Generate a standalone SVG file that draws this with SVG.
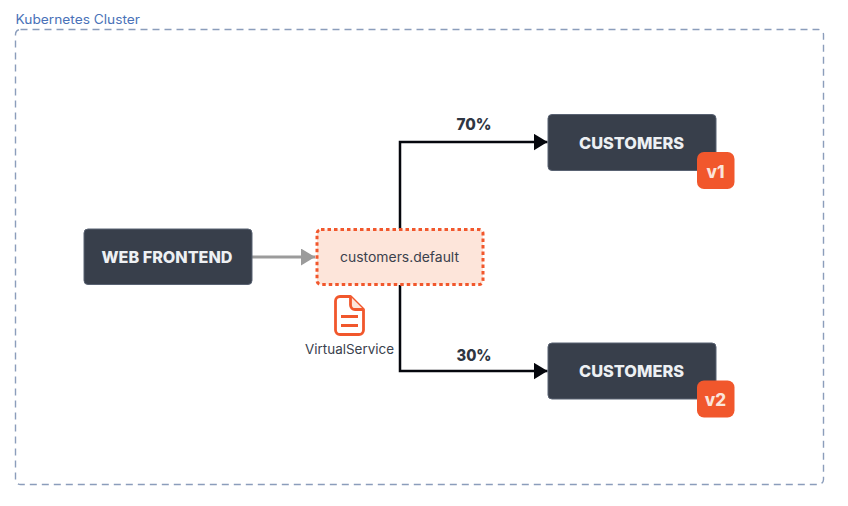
<svg xmlns="http://www.w3.org/2000/svg" width="848" height="506" viewBox="0 0 848 506">
<style>
text{font-family:Inter,"Liberation Sans",sans-serif}
.box{fill:#383f4b;stroke:#596272;stroke-width:1}
.title{fill:#edf0f3;font-size:16px;font-weight:800;text-anchor:middle}
.badge{fill:#f1572c}
.ver{fill:#fbe4da;font-size:17px;font-weight:800;text-anchor:middle}
.pct{fill:#2f3642;font-size:16px;font-weight:800;text-anchor:middle}
.lbl{fill:#3a414d;font-size:13px;text-anchor:middle}
.k{fill:none;stroke:#05070d;stroke-width:2.500}
.ic{fill:none;stroke:#f1572c;stroke-width:2.800;stroke-linejoin:round}
</style>
<defs>
<marker id="ak" markerUnits="userSpaceOnUse" markerWidth="15" markerHeight="17" refX="14" refY="8.500" orient="auto"><path d="M0 0L14 8.500L0 17Z" fill="#05070d"/></marker>
<marker id="ag" markerUnits="userSpaceOnUse" markerWidth="15" markerHeight="17" refX="14" refY="8.500" orient="auto"><path d="M0 0L14 8.500L0 17Z" fill="#9b9b9b"/></marker>
</defs>
<g id="cluster">
<rect x="15.500" y="29.500" width="808" height="455" rx="5" fill="none" stroke="#8b9dbb" stroke-width="1.400" stroke-dasharray="7 5"/>
<text x="15.500" y="24" font-size="12.500" fill="#4a72b8" textLength="124.500" lengthAdjust="spacingAndGlyphs">Kubernetes Cluster</text>
</g>
<g id="connectors">
<path d="M252 257H315" fill="none" stroke="#9b9b9b" stroke-width="2.800" marker-end="url(#ag)"/>
<path class="k" d="M400 229V142H547.500" marker-end="url(#ak)"/>
<path class="k" d="M400 285V371H547.500" marker-end="url(#ak)"/>
<text class="pct" x="474" y="130" textLength="35" lengthAdjust="spacingAndGlyphs">70%</text>
<text class="pct" x="474" y="361" textLength="35" lengthAdjust="spacingAndGlyphs">30%</text>
</g>
<g id="web-frontend">
<rect class="box" x="84" y="229" width="168" height="55.500" rx="4"/>
<text class="title" x="167" y="263" textLength="131" lengthAdjust="spacingAndGlyphs">WEB FRONTEND</text>
</g>
<g id="virtual-service">
<rect x="317" y="229.500" width="166" height="55" rx="4" fill="#fde5da" stroke="#f1572c" stroke-width="3" stroke-dasharray="3.500 3"/>
<text class="lbl" x="399.500" y="261.500" textLength="119" lengthAdjust="spacingAndGlyphs">customers.default</text>
<path class="ic" d="M350.500 296.500H340a4.500 4.500 0 0 0-4.500 4.500V330a4.500 4.500 0 0 0 4.500 4.500H359a4.500 4.500 0 0 0 4.500-4.500V309.500Z"/>
<path d="M350.500 296.500V305a4.500 4.500 0 0 0 4.500 4.500H363.500" fill="#fde5da" stroke="#f1572c" stroke-width="2.800" stroke-linejoin="round"/>
<path class="ic" d="M341 316.500H358M341 325.500H358"/>
<text class="lbl" x="349.500" y="353.500" textLength="89" lengthAdjust="spacingAndGlyphs">VirtualService</text>
</g>
<g id="customers-v1">
<rect class="box" x="548" y="114.500" width="168" height="56" rx="4"/>
<text class="title" x="631.500" y="149" textLength="105" lengthAdjust="spacingAndGlyphs">CUSTOMERS</text>
<rect class="badge" x="697" y="152" width="37.500" height="37" rx="7"/>
<text class="ver" x="715.500" y="177.500">v1</text>
</g>
<g id="customers-v2">
<rect class="box" x="548" y="343" width="168" height="56" rx="4"/>
<text class="title" x="631.500" y="377" textLength="105" lengthAdjust="spacingAndGlyphs">CUSTOMERS</text>
<rect class="badge" x="697" y="380.500" width="37.500" height="37" rx="7"/>
<text class="ver" x="715.500" y="405.500">v2</text>
</g>
</svg>
